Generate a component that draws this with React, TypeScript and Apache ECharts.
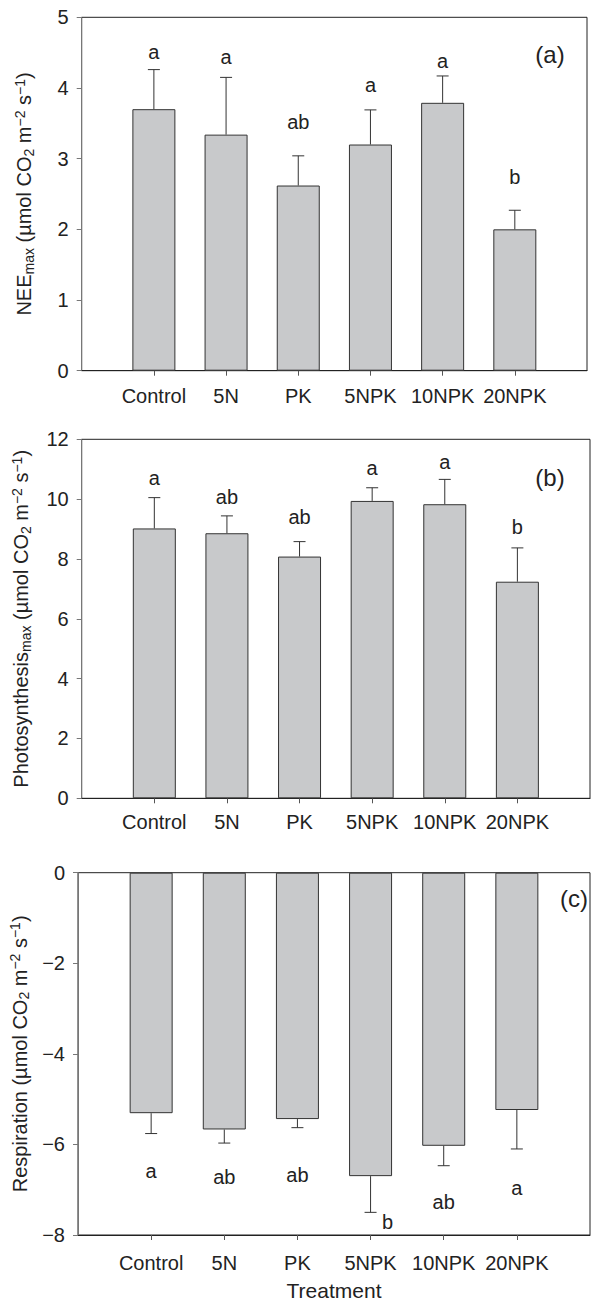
import React, { useEffect, useRef } from "react";
import * as echarts from "echarts";

const categories = ["Control", "5N", "PK", "5NPK", "10NPK", "20NPK"];

// Panel (a) NEEmax
const neeMean = [3.70, 3.34, 2.62, 3.20, 3.79, 2.00];
const neeSE = [0.56, 0.81, 0.42, 0.49, 0.38, 0.27];
const neeLetters = ["a", "a", "ab", "a", "a", "b"];
const neeLetterY = [4.51, 4.44, 3.52, 4.04, 4.38, 2.74];
const neeTicks = { min: 0, max: 5, interval: 1 };

// Panel (b) Photosynthesis max
const photoMean = [9.02, 8.86, 8.08, 9.94, 9.83, 7.24];
const photoSE = [1.03, 0.58, 0.50, 0.44, 0.83, 1.13];
const photoLetters = ["a", "ab", "ab", "a", "a", "b"];
const photoLetterY = [10.70, 10.06, 9.41, 11.05, 11.25, 9.06];
const photoTicks = { min: 0, max: 12, interval: 2 };

// Panel (c) Respiration
const respMean = [-5.31, -5.67, -5.44, -6.70, -6.03, -5.24];
const respSE = [0.45, 0.30, 0.19, 0.80, 0.44, 0.86];
const respLetters = ["a", "ab", "ab", "b", "ab", "a"];
const respLetterY = [-6.58, -6.72, -6.68, -7.71, -7.27, -6.97];
const respTicks = { min: -8, max: 0, interval: 2 };

const FONT = "'Liberation Sans', Arial, Helvetica, sans-serif";
const TXT = "#222";

const richStyles = {
  n: { fontSize: 20, fontFamily: FONT, color: TXT, lineHeight: 23 },
  sub: { fontSize: 14, fontFamily: FONT, color: TXT, lineHeight: 13, verticalAlign: "bottom" as const },
  sup: { fontSize: 14, fontFamily: FONT, color: TXT, lineHeight: 13, verticalAlign: "top" as const },
};

const unitRich = "{n| (µmol CO}{sub|2}{n| m}{sup|−2}{n| s}{sup|−1}{n|)}";

function buildPanel(
  i: number,
  p: {
    mean: number[];
    se: number[];
    letters: string[];
    letterY: number[];
    ticks: { min: number; max: number; interval: number };
    name: string;
    nameGap: number;
    grid: { left: number; top: number; width: number; height: number };
    labelMargin: number;
    sign: number;
    letterDx?: Record<number, number>;
    xName?: string;
  }
) {
  const grid = {
    ...p.grid,
    show: true,
    borderColor: "#222",
    borderWidth: 1,
    backgroundColor: "transparent",
    containLabel: false,
  };
  const xAxis = {
    type: "category",
    gridIndex: i,
    data: ["", ...categories, ""],
    boundaryGap: false,
    axisLine: { onZero: false, lineStyle: { color: "#222", width: 1 } },
    axisTick: {
      show: true,
      length: 5,
      interval: (_idx: number, val: string) => val !== "",
      lineStyle: { color: "#555" },
    },
    axisLabel: { interval: 0, margin: p.labelMargin, fontSize: 20, color: TXT, fontFamily: FONT },
    splitLine: { show: false },
    name: p.xName || "",
    nameLocation: "middle",
    nameGap: 45,
    nameTextStyle: { fontSize: 21, color: TXT, fontFamily: FONT },
  };
  const yAxis = {
    type: "value",
    gridIndex: i,
    min: p.ticks.min,
    max: p.ticks.max,
    interval: p.ticks.interval,
    axisLine: { show: true, onZero: false, lineStyle: { color: "#777", width: 1 } },
    axisTick: { show: true, length: 5, lineStyle: { color: "#777" } },
    axisLabel: {
      margin: 13,
      fontSize: 20,
      color: TXT,
      fontFamily: FONT,
      formatter: (v: number) => (v < 0 ? "−" + Math.abs(v) : String(v)),
    },
    splitLine: { show: false },
    name: p.name,
    nameLocation: "middle",
    nameRotate: 90,
    nameGap: p.nameGap,
    nameTextStyle: { fontSize: 20, color: TXT, fontFamily: FONT, rich: richStyles },
  };
  const bar = {
    type: "bar",
    xAxisIndex: i,
    yAxisIndex: i,
    data: ["-", ...p.mean, "-"],
    barWidth: 43,
    itemStyle: { color: "#c8c9cb", borderColor: "#333", borderWidth: 1 },
    z: 2,
  };
  const err = {
    type: "custom",
    xAxisIndex: i,
    yAxisIndex: i,
    data: p.mean.map((v, k) => [k + 1, v, v + p.sign * p.se[k]]),
    encode: { x: 0, y: [1, 2] },
    z: 3,
    renderItem: (_params: any, api: any) => {
      const x = api.value(0);
      const a = api.coord([x, api.value(1)]);
      const b = api.coord([x, api.value(2)]);
      return {
        type: "group",
        children: [
          { type: "line", shape: { x1: a[0], y1: a[1], x2: b[0], y2: b[1] }, style: { stroke: "#333", lineWidth: 1 } },
          { type: "line", shape: { x1: b[0] - 6, y1: b[1], x2: b[0] + 6, y2: b[1] }, style: { stroke: "#333", lineWidth: 1 } },
        ],
      };
    },
  };
  const letters = {
    type: "custom",
    xAxisIndex: i,
    yAxisIndex: i,
    data: p.letterY.map((y, k) => [k + 1, y]),
    encode: { x: 0, y: 1 },
    z: 4,
    renderItem: (params: any, api: any) => {
      const c = api.coord([api.value(0), api.value(1)]);
      const dx = (p.letterDx && p.letterDx[params.dataIndex]) || 0;
      return {
        type: "text",
        x: c[0] + dx,
        y: c[1],
        style: {
          text: p.letters[params.dataIndex],
          fontSize: 20,
          fontFamily: FONT,
          fill: TXT,
          align: "center",
          verticalAlign: "middle",
        },
      };
    },
  };
  return { grid, xAxis, yAxis, series: [bar, err, letters] };
}

export default function App() {
  const ref = useRef<HTMLDivElement>(null);
  useEffect(() => {
    if (!ref.current) return;
    const chart = echarts.init(ref.current, undefined, { renderer: "svg" });
    const pa = buildPanel(0, {
      mean: neeMean,
      se: neeSE,
      letters: neeLetters,
      letterY: neeLetterY,
      ticks: neeTicks,
      name: "{n|NEE}{sub|max}" + unitRich,
      nameGap: 46,
      grid: { left: 81.7, top: 17.3, width: 505.3, height: 353.4 },
      labelMargin: 15,
      sign: 1,
    });
    const pb = buildPanel(1, {
      mean: photoMean,
      se: photoSE,
      letters: photoLetters,
      letterY: photoLetterY,
      ticks: photoTicks,
      name: "{n|Photosynthesis}{sub|max}" + unitRich,
      nameGap: 49,
      grid: { left: 81.7, top: 439.3, width: 514.3, height: 359 },
      labelMargin: 14,
      sign: 1,
    });
    const pc = buildPanel(2, {
      mean: respMean,
      se: respSE,
      letters: respLetters,
      letterY: respLetterY,
      ticks: respTicks,
      name: "{n|Respiration}" + unitRich,
      nameGap: 47,
      grid: { left: 76.7, top: 872.7, width: 520.8, height: 364 },
      labelMargin: 18,
      sign: -1,
      letterDx: { 3: 17 },
      xName: "Treatment",
    });
    const panelLabel = (text: string, x: number, y: number) => ({
      type: "text",
      x,
      y,
      style: { text, fontSize: 24, fontFamily: FONT, fill: TXT, align: "center", verticalAlign: "middle" },
    });
    chart.setOption({
      animation: false,
      backgroundColor: "#fff",
      grid: [pa.grid, pb.grid, pc.grid],
      xAxis: [pa.xAxis, pb.xAxis, pc.xAxis],
      yAxis: [pa.yAxis, pb.yAxis, pc.yAxis],
      series: [...pa.series, ...pb.series, ...pc.series],
      graphic: [panelLabel("(a)", 550, 54), panelLabel("(b)", 550, 477), panelLabel("(c)", 574, 898)],
    });
    return () => chart.dispose();
  }, []);
  return <div ref={ref} style={{ position: "absolute", left: 0, top: 0, width: 593, height: 1302 }} />;
}
